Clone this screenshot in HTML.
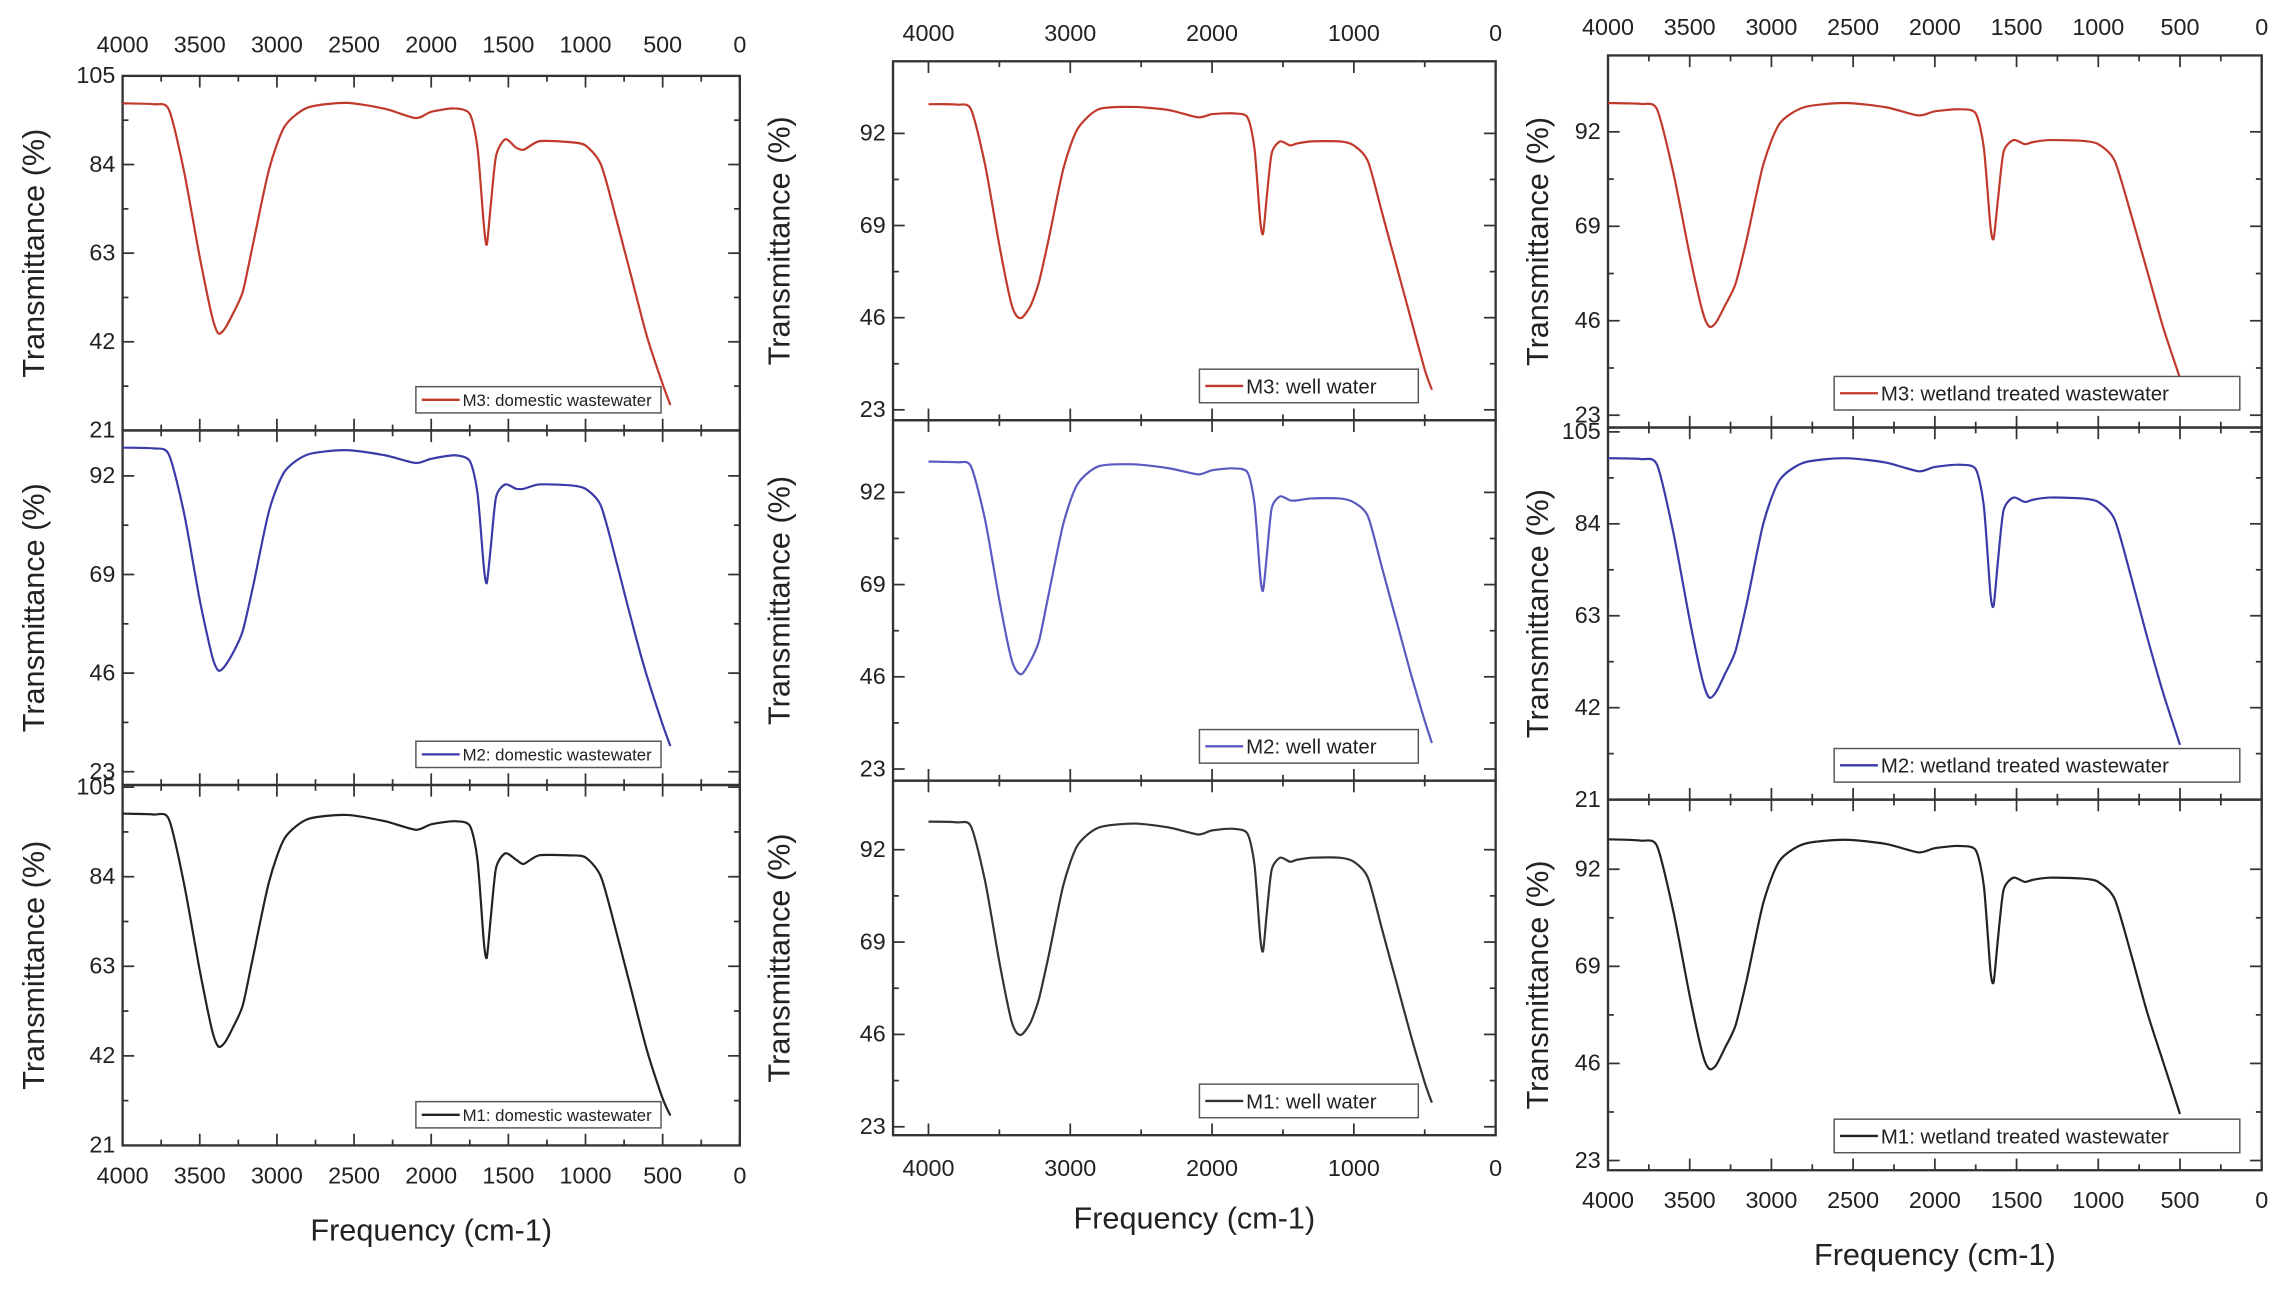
<!DOCTYPE html>
<html><head><meta charset="utf-8"><style>
html,body{margin:0;padding:0;background:#fff}
svg{display:block}
text{font-family:"Liberation Sans",Arial,sans-serif;fill:#222}
</style></head><body>
<svg id="fig" width="2288" height="1289" viewBox="0 0 1568 883.4" xmlns="http://www.w3.org/2000/svg"></svg>
<script>
// wavenumbers (cm-1)
const wavenumbers=[4000,3800,3700,3600,3500,3420,3380,3340,3280,3220,3150,3050,2950,2800,2550,2300,2100,2000,1850,1750,1700,1660,1640,1615,1580,1520,1450,1400,1300,1100,1000,900,800,700,600,500,450];
const domesticM3=[98.5,98.3,97,82,62,48,44,45,49,54,66,83,93,97.5,98.6,97.2,95,96.5,97.3,96,88,70,65,74,86,90,88,87.5,89.5,89.3,88.5,84,71,57,43,32,27];
const domesticM2=[98.6,98.4,97,83,63,50,46.6,47.5,51,56,67,84,93,97,98,96.8,95,96,96.8,95.5,88,71,67,75,87,90,89,89,90,89.8,89,85,72,58,45,34,29];
const domesticM1=[98.8,98.6,97.5,82,62,48,44.2,45,49,54,66,83,93,97.5,98.5,97,95,96.3,97,96,88,69,65,74,86,89.5,88,87,89,89,88.5,84,71,57,43,32,28];
const wellM3=[99.3,99.2,98,84,64,50,46.5,46,49,55,66,83,93,98,98.6,97.8,96,96.8,97,96,88,70,67,76,87,90,89,89.5,90,90,89,85,72,59,46,33,28];
const wellM2=[99.7,99.5,98.5,85,65,51,47.5,46.7,50,55,67,84,94,98.5,99,98,96.5,97.5,98,97,89,71,67.5,76,88,91,90,90,90.5,90.5,89.5,86,73,60,47,35,29.5];
const wellM1=[99,98.8,97.8,84,64,50,46.5,46,49,55,66,83,93,97.5,98.5,97.5,95.8,96.8,97.2,96,88,70,66.8,76,87,90,89,89.5,90,90,89,85,72,59,46,34,29];
const wetlandM3=[99,98.8,97.5,82,62,48,44.6,45.5,50,55,66,84,94,98,99,98,96,97,97.5,96.5,88,69,66,75,87,90,89,89.5,90,89.8,89,85,72,58,44,32,null];
const wetlandM2=[99,98.8,97.5,82,62,48,44.3,45.5,50,55,66,84,94,98,99,98,96,97,97.5,96.5,88,68,65.3,75,87,90,89,89.5,90,89.8,89,85,72,58,45,33.5,null];
const wetlandM1=[99.1,98.8,97.5,82,62,48,44.7,45.5,50,55,66,84,94,98,99,98,96,97,97.5,96.5,88,68,65.3,75,87,90,89,89.5,90,89.8,89,85,72,58,46,34,null];
const xTicksA=[4000,3500,3000,2500,2000,1500,1000,500,0];
const xTicksB=[4000,3000,2000,1000,0];
const yTicks105=[105,84,63,42,21];
const yTicks92=[92,69,46,23];

const NS="http://www.w3.org/2000/svg";
const svg=document.getElementById('fig');
function el(tag,attrs,parent){const e=document.createElementNS(NS,tag);for(const k in attrs)e.setAttribute(k,attrs[k]);(parent||svg).appendChild(e);return e;}
function smooth(pts){
  if(pts.length<2)return '';
  let d='M'+pts[0][0].toFixed(1)+','+pts[0][1].toFixed(1);
  const t=0.12;
  for(let i=0;i<pts.length-1;i++){
    const p0=pts[i-1]||pts[i],p1=pts[i],p2=pts[i+1],p3=pts[i+2]||p2;
    const c1=[p1[0]+(p2[0]-p0[0])*t,p1[1]+(p2[1]-p0[1])*t];
    const c2=[p2[0]-(p3[0]-p1[0])*t,p2[1]-(p3[1]-p1[1])*t];
    d+='C'+c1[0].toFixed(1)+','+c1[1].toFixed(1)+' '+c2[0].toFixed(1)+','+c2[1].toFixed(1)+' '+p2[0].toFixed(1)+','+p2[1].toFixed(1);
  }
  return d;
}

const cols=[
 {x0:84,x1:507,w0:4000,w1:0,ticks:xTicksA,minor:250,topLab:30,botLab:805,xl:843,ylabX:30,tag:'domestic',legX:285,legW:168,fs:11.5,
  panels:[{y0:52,y1:295,v0:105,v1:21,ticks:yTicks105,data:domesticM3,col:'#c0392b',lab:'M3: domestic wastewater'},
          {y0:295,y1:538,v0:102.6,v1:19.9,ticks:yTicks92,data:domesticM2,col:'#3a3aa8',lab:'M2: domestic wastewater'},
          {y0:538,y1:785,v0:105.5,v1:21,ticks:yTicks105,data:domesticM1,col:'#222',lab:'M1: domestic wastewater'}]},
 {x0:612,x1:1025,w0:4250,w1:0,ticks:xTicksB,minor:500,topLab:22,botLab:800,xl:835,ylabX:541,tag:'well',legX:822,legW:150,fs:14,
  panels:[{y0:42,y1:288,v0:110,v1:20.4,ticks:yTicks92,data:wellM3,col:'#c0392b',lab:'M3: well water'},
          {y0:288,y1:535,v0:110,v1:20.1,ticks:yTicks92,data:wellM2,col:'#5a5ac0',lab:'M2: well water'},
          {y0:535,y1:778,v0:109.2,v1:20.9,ticks:yTicks92,data:wellM1,col:'#333',lab:'M1: well water'}]},
 {x0:1102,x1:1550,w0:4000,w1:0,ticks:xTicksA,minor:250,topLab:18,botLab:822,xl:860,ylabX:1061,tag:'wetland',legX:1257,legW:278,fs:14,
  panels:[{y0:38,y1:293,v0:110.6,v1:20,ticks:yTicks92,data:wetlandM3,col:'#c0392b',lab:'M3: wetland treated wastewater'},
          {y0:293,y1:548,v0:106,v1:21,ticks:yTicks105,data:wetlandM2,col:'#3a3aa8',lab:'M2: wetland treated wastewater'},
          {y0:548,y1:802,v0:108.5,v1:20.7,ticks:yTicks92,data:wetlandM1,col:'#222',lab:'M1: wetland treated wastewater'}]}
];

cols.forEach((c,ci)=>{
  const X=w=>c.x0+(w-c.w0)/(c.w1-c.w0)*(c.x1-c.x0);
  const g=el('g',{});
  
  
  c.ticks.forEach(t=>{
    const a=el('text',{x:X(t),y:c.topLab+6,'text-anchor':'middle','font-size':16},g);a.textContent=t;
    
    const b=el('text',{x:X(t),y:c.botLab+6,'text-anchor':'middle','font-size':16},g);b.textContent=t;
    
  });
  const xl=el('text',{x:(c.x0+c.x1)/2,y:c.xl+7,'text-anchor':'middle','font-size':21},g);xl.textContent='Frequency (cm-1)';
  
  c.panels.forEach((p,pi)=>{
    const Y=v=>p.y0+(v-p.v0)/(p.v1-p.v0)*(p.y1-p.y0);
    const pg=el('g',{},g);
    
    
    const fr=el('rect',{x:c.x0,y:p.y0,width:c.x1-c.x0,height:p.y1-p.y0,fill:'none',stroke:'#333','stroke-width':1.6},pg);
    
    const wmax=Math.max(c.w0,c.w1);
    for(let w=0;w<=wmax;w+=c.minor){
      const maj=c.ticks.includes(w);const L=maj?8:4;const x=X(w);
      if(x<c.x0-0.5)continue;
      el('line',{x1:x,x2:x,y1:p.y0,y2:p.y0+L,stroke:'#333','stroke-width':1.2},pg);
      el('line',{x1:x,x2:x,y1:p.y1,y2:p.y1-L,stroke:'#333','stroke-width':1.2},pg);
    }
    const step=p.ticks[0]-p.ticks[1];
    p.ticks.forEach(t=>{
      [t,t-step/2].forEach((v,k)=>{
        const y=Y(v);if(y<p.y0-1||y>p.y1+1)return;const L=k?4:8;
        el('line',{x1:c.x0,x2:c.x0+L,y1:y,y2:y,stroke:'#333','stroke-width':1.2},pg);
        el('line',{x1:c.x1,x2:c.x1-L,y1:y,y2:y,stroke:'#333','stroke-width':1.2},pg);
      });
      const tl=el('text',{x:c.x0-5,y:Y(t)+5,'text-anchor':'end','font-size':16},pg);tl.textContent=t;
      
    });
    const yl=el('text',{x:c.ylabX,y:(p.y0+p.y1)/2,'text-anchor':'middle','font-size':21,transform:`rotate(-90 ${c.ylabX} ${(p.y0+p.y1)/2})`},pg);
    yl.textContent='Transmittance (%)';
    
    const pts=[];
    wavenumbers.forEach((w,i)=>{const v=p.data[i];if(v==null)return;pts.push([X(w),Y(v)]);});
    const path=el('path',{d:smooth(pts),fill:'none',stroke:p.col,'stroke-width':1.5,'stroke-linejoin':'round'},pg);
    
    const lh=ci===0?18:23;const ly=p.y1-(ci===0?30:35);
    const lg=el('g',{},pg);
    
    el('rect',{x:c.legX,y:ly,width:c.legW,height:lh,fill:'#fff',stroke:'#555','stroke-width':1},lg);
    el('line',{x1:c.legX+4,x2:c.legX+30,y1:ly+lh/2,y2:ly+lh/2,stroke:p.col,'stroke-width':1.6},lg);
    const lt=el('text',{x:c.legX+32,y:ly+lh/2+c.fs*0.36,'font-size':c.fs},lg);lt.textContent=p.lab;
    
  });
});
</script>
</body></html>
